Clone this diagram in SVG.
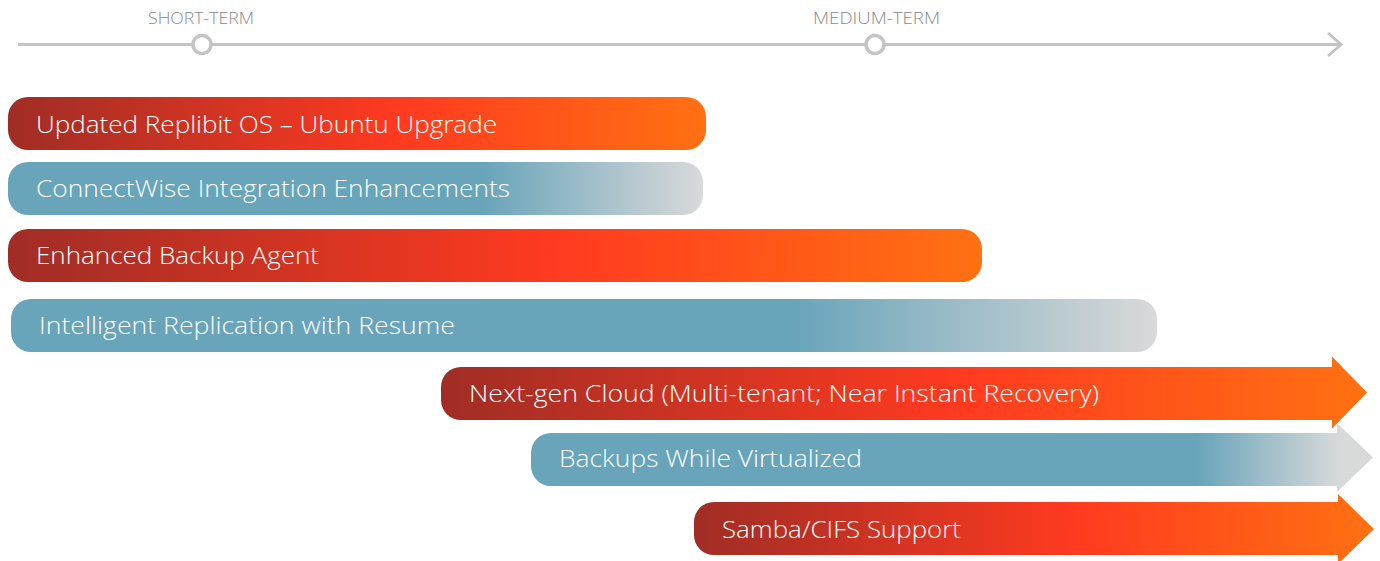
<svg xmlns="http://www.w3.org/2000/svg" width="1380" height="561" viewBox="0 0 1380 561">
<style>
.lbl{font-family:"Open Sans","Liberation Sans",sans-serif;font-size:23px;fill:#ffffff;font-weight:300}
.tl{font-family:"Open Sans","Liberation Sans",sans-serif;font-size:16px;fill:#8a8a8a;font-weight:300}
.axis{stroke:#c4c4c4;stroke-width:3;fill:none}
.ms{fill:#ffffff;stroke:#c4c4c4;stroke-width:3.5}
</style>
<defs>
<linearGradient id="orange" x1="0" y1="0" x2="1" y2="0">
<stop offset="0" stop-color="#a02d25"/>
<stop offset="0.56" stop-color="#ff3a20"/>
<stop offset="1" stop-color="#ff7112"/>
</linearGradient>
<linearGradient id="blue" x1="0" y1="0" x2="1" y2="0">
<stop offset="0" stop-color="#68a4ba"/>
<stop offset="0.68" stop-color="#68a4ba"/>
<stop offset="1" stop-color="#d9d9d9"/>
</linearGradient>
<linearGradient id="blue2" x1="0" y1="0" x2="1" y2="0">
<stop offset="0" stop-color="#68a4ba"/>
<stop offset="0.79" stop-color="#68a4ba"/>
<stop offset="0.96" stop-color="#d8d9da"/>
<stop offset="1" stop-color="#d9d9d9"/>
</linearGradient>
</defs>
<g id="timeline">
<line class="axis" x1="18" y1="44.5" x2="1340" y2="44.5"/>
<polyline class="axis" points="1328,33 1341,44.5 1328,56"/>
<circle class="ms" cx="202" cy="44.5" r="9"/>
<circle class="ms" cx="875" cy="44.5" r="9"/>
<text class="tl" x="148" y="24" textLength="106" lengthAdjust="spacingAndGlyphs">SHORT-TERM</text>
<text class="tl" x="813" y="24" textLength="127" lengthAdjust="spacingAndGlyphs">MEDIUM-TERM</text>
</g>
<g id="connectors"/>
<g id="item1">
<rect x="8" y="97" width="698" height="53" rx="20" fill="url(#orange)"/>
<text class="lbl" x="36" y="133" textLength="461" lengthAdjust="spacingAndGlyphs">Updated Replibit OS – Ubuntu Upgrade</text>
</g>
<g id="item2">
<rect x="8" y="162" width="695" height="53" rx="20" fill="url(#blue)"/>
<text class="lbl" x="36" y="197" textLength="474" lengthAdjust="spacingAndGlyphs">ConnectWise Integration Enhancements</text>
</g>
<g id="item3">
<rect x="8" y="229" width="974" height="53" rx="20" fill="url(#orange)"/>
<text class="lbl" x="36" y="264" textLength="283" lengthAdjust="spacingAndGlyphs">Enhanced Backup Agent</text>
</g>
<g id="item4">
<rect x="11" y="299" width="1146" height="53" rx="20" fill="url(#blue)"/>
<text class="lbl" x="39" y="334" textLength="416" lengthAdjust="spacingAndGlyphs">Intelligent Replication with Resume</text>
</g>
<g id="item5">
<path d="M461,367 H1332 V356.5 L1367,392.5 L1332,428.5 V420 H461 A20,20 0 0 1 441,400 V387 A20,20 0 0 1 461,367 Z" fill="url(#orange)"/>
<text class="lbl" x="469" y="402" textLength="630" lengthAdjust="spacingAndGlyphs">Next-gen Cloud (Multi-tenant; Near Instant Recovery)</text>
</g>
<g id="item6">
<path d="M551,433 H1337 V423 L1373,457.5 L1337,492 V486 H551 A20,20 0 0 1 531,466 V453 A20,20 0 0 1 551,433 Z" fill="url(#blue2)"/>
<text class="lbl" x="559" y="467" textLength="303" lengthAdjust="spacingAndGlyphs">Backups While Virtualized</text>
</g>
<g id="item7">
<path d="M714,502 H1338 V494 L1374,529 L1338,564 V555 H714 A20,20 0 0 1 694,535 V522 A20,20 0 0 1 714,502 Z" fill="url(#orange)"/>
<text class="lbl" x="722" y="538" textLength="239" lengthAdjust="spacingAndGlyphs">Samba/CIFS Support</text>
</g>
</svg>
